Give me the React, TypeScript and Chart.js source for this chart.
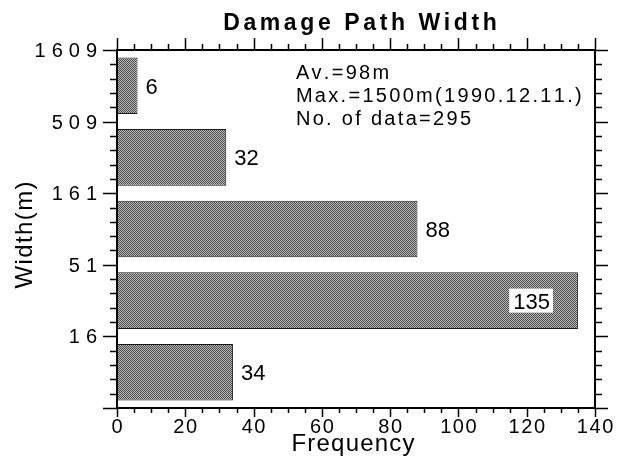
import { useEffect, useRef } from 'react';
import { Chart, registerables } from 'chart.js';

Chart.register(...registerables);

// Width classes (m), listed from the bottom boundary upward; the lowest boundary carries no label.
const widthBoundaries = ['', '16', '51', '161', '509', '1609'];
// Number of cases in each width class, bottom class first.
const frequencies = [34, 135, 88, 32, 6];
const frequencyMin = 0;
const frequencyMax = 140;
const frequencyStep = 20;

const chartTitle = 'Damage Path Width';
const xAxisTitle = 'Frequency';
const yAxisTitle = 'Width(m)';
const statsLines = ['Av.=98m', 'Max.=1500m(1990.12.11.)', 'No. of data=295'];

const FONT = '"Liberation Sans", Arial, Helvetica, sans-serif';

// Draws text one glyph at a time so that the glyph spacing can be widened.
function drawSpaced(
  ctx: CanvasRenderingContext2D,
  text: string,
  x: number,
  y: number,
  spacing: number,
  align: 'left' | 'center' | 'right'
) {
  const chars = Array.from(text);
  const widths = chars.map((c) => ctx.measureText(c).width);
  const total = widths.reduce((a, b) => a + b, 0) + spacing * Math.max(0, chars.length - 1);
  let cx = align === 'left' ? x : align === 'center' ? x - total / 2 : x - total;
  ctx.textAlign = 'left';
  chars.forEach((c, i) => {
    ctx.fillText(c, cx, y);
    cx += widths[i] + spacing;
  });
  return total;
}

function makeHalftone(): CanvasPattern | string {
  const tile = document.createElement('canvas');
  tile.width = 2;
  tile.height = 2;
  const t = tile.getContext('2d');
  if (!t) return '#888';
  t.fillStyle = '#b2b2b2';
  t.fillRect(0, 0, 2, 2);
  t.fillStyle = '#545454';
  t.fillRect(0, 0, 1, 1);
  t.fillRect(1, 1, 1, 1);
  const ctx = document.createElement('canvas').getContext('2d');
  const p = ctx ? ctx.createPattern(tile, 'repeat') : null;
  return p || '#888';
}

const decorations = {
  id: 'decorations',
  afterDraw(chart: Chart) {
    const ctx = chart.ctx;
    const { left, right, top, bottom } = chart.chartArea;
    const xs = chart.scales.x;
    const ys = chart.scales.y;

    ctx.save();
    ctx.strokeStyle = '#000';
    ctx.fillStyle = '#000';

    // frame
    ctx.lineWidth = 2;
    ctx.strokeRect(left, top, right - left, bottom - top);

    // x ticks: majors from the scale, three minors between each pair
    ctx.lineWidth = 1.5;
    const xTicks = xs.ticks.map((t) => t.value);
    const xMinorStep = frequencyStep / 4;
    ctx.beginPath();
    for (let v = frequencyMin; v <= frequencyMax + 1e-9; v += xMinorStep) {
      const px = Math.round(xs.getPixelForValue(v)) + 0.5;
      const major = xTicks.some((t) => Math.abs(t - v) < 1e-9);
      ctx.moveTo(px, bottom);
      ctx.lineTo(px, bottom + (major ? 9 : 5));
      ctx.moveTo(px, top);
      ctx.lineTo(px, top - (major ? 12 : 6));
    }
    // y ticks: majors at class boundaries, four minors between
    const yTicks = ys.ticks.map((t) => t.value);
    for (let k = 0; k <= (widthBoundaries.length - 1) * 5; k++) {
      const v = k / 5;
      const py = Math.round(ys.getPixelForValue(v)) + 0.5;
      const major = yTicks.some((t) => Math.abs(t - v) < 1e-9);
      ctx.moveTo(left, py);
      ctx.lineTo(left - (major ? 14 : 7), py);
      ctx.moveTo(right, py);
      ctx.lineTo(right + (major ? 13 : 7), py);
    }
    ctx.stroke();

    // tick labels
    ctx.textBaseline = 'alphabetic';
    ctx.font = `20px ${FONT}`;
    xs.ticks.forEach((t) => {
      const px = xs.getPixelForValue(t.value);
      drawSpaced(ctx, String(t.value), px, bottom + 25, 1.6, 'center');
    });
    ys.ticks.forEach((t) => {
      const label = widthBoundaries[Math.round(t.value)] || '';
      if (!label) return;
      const py = ys.getPixelForValue(t.value);
      drawSpaced(ctx, label, left - 20, py + 7, 6, 'right');
    });

    // axis titles
    ctx.font = `24px ${FONT}`;
    drawSpaced(ctx, xAxisTitle, (left + right) / 2 - 3, bottom + 43, 1.2, 'center');
    ctx.save();
    ctx.translate(32, (top + bottom) / 2 + 6);
    ctx.rotate(-Math.PI / 2);
    drawSpaced(ctx, yAxisTitle, 0, 0, 1.4, 'center');
    ctx.restore();

    // chart title
    ctx.font = `bold 23px ${FONT}`;
    drawSpaced(ctx, chartTitle, (left + right) / 2 + 4, top - 20, 3.6, 'center');

    // summary statistics
    ctx.font = `20px ${FONT}`;
    statsLines.forEach((line, i) => {
      drawSpaced(ctx, line, xs.getPixelForValue(52.4), top + 29 + i * 23, 2.3, 'left');
    });

    // value labels beside each bar
    ctx.font = `22px ${FONT}`;
    const meta = chart.getDatasetMeta(0);
    meta.data.forEach((bar, i) => {
      const value = frequencies[i];
      const text = String(value);
      const w = ctx.measureText(text).width;
      const endX = xs.getPixelForValue(value);
      const cy = (bar as any).y as number;
      if (endX + 8 + w > right - 4) {
        const tx = endX - 28 - w;
        ctx.fillStyle = '#fff';
        ctx.fillRect(tx - 4, cy - 12, w + 7, 24);
        ctx.fillStyle = '#000';
        ctx.textAlign = 'left';
        ctx.fillText(text, tx, cy + 8);
      } else {
        ctx.textAlign = 'left';
        ctx.fillText(text, endX + 8, cy + 8);
      }
    });

    ctx.restore();
  },
};

export default function App() {
  const canvasRef = useRef<HTMLCanvasElement | null>(null);

  useEffect(() => {
    const canvas = canvasRef.current;
    if (!canvas) return;
    const fill = makeHalftone();

    const chart = new Chart(canvas, {
      type: 'bar',
      data: {
        datasets: [
          {
            data: frequencies.map((f, i) => ({ x: f, y: i + 0.5 })),
            backgroundColor: fill as any,
            borderColor: '#1a1a1a',
            borderWidth: 1,
            borderSkipped: false,
            barPercentage: 0.79,
            categoryPercentage: 1,
          },
        ],
      },
      options: {
        indexAxis: 'y',
        responsive: false,
        animation: false,
        devicePixelRatio: 1,
        layout: { padding: { top: 50, right: 23, left: 0, bottom: 0 } },
        plugins: {
          legend: { display: false },
          title: { display: false },
          tooltip: { enabled: false },
        },
        scales: {
          x: {
            type: 'linear',
            position: 'bottom',
            min: frequencyMin,
            max: frequencyMax,
            offset: false,
            ticks: { stepSize: frequencyStep, display: false },
            grid: { display: false },
            border: { display: false },
            afterFit: (s: any) => {
              s.height = 68;
            },
          },
          y: {
            type: 'linear',
            position: 'left',
            min: 0,
            max: widthBoundaries.length - 1,
            offset: false,
            ticks: { stepSize: 1, display: false },
            grid: { display: false },
            border: { display: false },
            afterFit: (s: any) => {
              s.width = 117;
            },
          },
        },
      },
      plugins: [decorations],
    });

    return () => chart.destroy();
  }, []);

  return (
    <div style={{ position: 'fixed', left: 0, top: 0, width: 618, height: 476, background: '#fff' }}>
      <canvas ref={canvasRef} width={618} height={476} style={{ width: 618, height: 476, display: 'block' }} />
    </div>
  );
}
